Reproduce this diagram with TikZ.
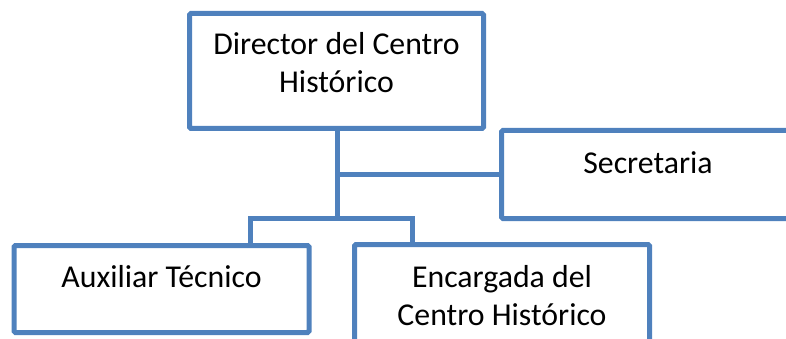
\documentclass[tikz,border=0pt]{standalone}
\usepackage{fontspec}
\setmainfont{Carlito}
\usetikzlibrary{positioning}
\definecolor{boxblue}{RGB}{79,129,189}
\tikzset{
	box/.style={draw=boxblue, line width=5pt, rounded corners=1.5pt, minimum width=294pt, inner sep=0pt},
	lbl/.style={font=\fontsize{31.8}{38}\selectfont, align=center, inner sep=0pt},
	link/.style={draw=boxblue, line width=5pt},
}
\begin{document}
\begin{tikzpicture}[x=1pt, y=-1pt]
		\useasboundingbox (0,0) rectangle (786,339);
		
		\node[box, minimum height=115pt] (dir) at (336.5, 71) {};
		\node[box, minimum width=293pt, minimum height=88pt] (sec) at (648, 174.5) {};
		\node[box, minimum width=295pt, minimum height=87pt] (aux) at (161.5, 289) {};
		\node[box, minimum width=295pt, minimum height=130pt] (enc) at (502, 309.5) {};
		
		\node[lbl, anchor=base] (dirtxt) at (336.5, 93) {Director del Centro\\Histórico};
		\node[lbl, anchor=base] (sectxt) at (648, 173) {Secretaria};
		\node[lbl, anchor=base] (auxtxt) at (161.5, 287) {Auxiliar Técnico};
		\node[lbl, anchor=base] (enctxt) at (502, 325) {Encargada del\\Centro Histórico};
		
		\coordinate (hub) at (337, 218);	% where the branches meet
		\coordinate (auxdrop) at (250.5, 218);
		\coordinate (encdrop) at (412.5, 218);
		
		\draw[link] (dir.south -| hub) -- (hub);
		\draw[link] (hub |- sec.west) -- (sec.west);
		\draw[link] (auxdrop |- aux.north) -- (auxdrop) -- (encdrop) -- (encdrop |- enc.north);
	\end{tikzpicture}
\end{document}
